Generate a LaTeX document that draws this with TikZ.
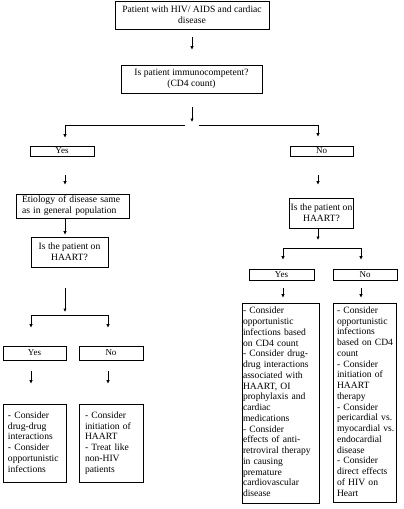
\documentclass[tikz,border=0pt]{standalone}
\usepackage{fontspec}
\setmainfont{Liberation Serif}
\usetikzlibrary{arrows.meta}
\newcommand{\lines}[1]{\begin{tabular}{@{}l@{}}#1\end{tabular}}
\begin{document}
\begin{tikzpicture}[x=1pt,y=-1pt,
  line/.style={draw, line width=0.75pt},
  arr/.style={line, -{Latex[length=3.5pt,width=3.5pt]}},
  box/.style={draw, line width=0.75pt, inner sep=1pt, align=center, font=\fontsize{9.6}{10.9}\selectfont},
  boxl/.style={draw, line width=0.75pt, inner ysep=1pt, align=left, font=\fontsize{9.6}{10.75}\selectfont},
  yn/.style={draw, line width=0.75pt, inner sep=0pt, font=\fontsize{9}{9}\selectfont}]
\useasboundingbox (0,0) rectangle (404,509);
% top
\node[box, minimum width=154, minimum height=28] (top) at (192,15) {Patient with HIV/ AIDS and cardiac\\disease};
\node[box, minimum width=141, minimum height=28] (q1) at (191.5,79) {Is patient immunocompetent?\\(CD4 count)};
\draw[arr, shorten <=8pt, shorten >=15pt] (top.south) -- (top.south |- q1.north);
\coordinate (s1) at (192,125);
\coordinate (s1L) at (65,125);
\coordinate (s1R) at (318,125);
\coordinate (g1) at (185,125);
\coordinate (g2) at (199,125);
\draw[arr, shorten <=14pt, shorten >=3pt] (q1.south -| s1) -- (s1);
\draw[line] (s1L) -- (g1);
\draw[line] (g2) -- (s1R);
% level 2
\node[yn, minimum width=64, minimum height=10] (yes1) at (62,151) {Yes};
\node[yn, minimum width=63, minimum height=10] (no1) at (321.5,151) {No};
\draw[arr, shorten >=8pt] (s1L) -- (s1L |- yes1.north);
\draw[arr, shorten >=9pt] (s1R) -- (s1R |- no1.north);
% left branch
\node[boxl, minimum width=113, minimum height=24, text width=101, inner xsep=6pt] (etio) at (72.5,206) {\lines{Etiology of disease same\\as in general population}};
\draw[arr, shorten <=19pt, shorten >=9pt] (yes1.south -| s1L) -- (etio.north -| s1L);
\node[box, minimum width=77, minimum height=30] (h1) at (69.5,252) {Is the patient on\\HAART?};
\draw[arr, shorten >=2pt] (etio.south -| s1L) -- (h1.north -| s1L);
\coordinate (s2) at (65,315);
\coordinate (s2L) at (31,315);
\coordinate (s2R) at (108,315);
\draw[arr, shorten <=21pt, shorten >=3pt] (h1.south -| s2) -- (s2);
\draw[line] (s2L) -- (s2R);
\node[yn, minimum width=63, minimum height=14] (yesL) at (34.5,353) {Yes};
\node[yn, minimum width=64, minimum height=14] (noL) at (111,353) {No};
\draw[arr, shorten >=18pt] (s2L) -- (s2L |- yesL.north);
\draw[arr, shorten >=18pt] (s2R) -- (s2R |- noL.north);
\node[boxl, minimum width=63, minimum height=78, text width=53, inner xsep=5pt] (bL) at (34.5,443) {\lines{- Consider\\drug-drug\\interactions\\- Consider\\opportunistic\\infections}};
\node[boxl, minimum width=64, minimum height=78, text width=52, inner xsep=6pt] (bNL) at (111,443) {\lines{- Consider\\initiation of\\HAART\\- Treat like\\non-HIV\\patients}};
\draw[arr, shorten <=11pt, shorten >=20pt] (yesL.south -| s2L) -- (bL.north -| s2L);
\draw[arr, shorten <=11pt, shorten >=20pt] (noL.south -| s2R) -- (bNL.north -| s2R);
% right branch
\node[box, minimum width=59, minimum height=30] (h2) at (321.5,213) {Is the patient on\\HAART?};
\draw[arr, shorten <=19pt, shorten >=13pt] (no1.south -| s1R) -- (h2.north -| s1R);
\coordinate (s3) at (318,248);
\coordinate (s3L) at (283,248);
\coordinate (s3R) at (361,248);
\draw[arr, shorten >=8pt] (h2.south -| s3) -- (s3);
\draw[line] (s3L) -- (s3R);
\node[yn, minimum width=65, minimum height=11] (yesR) at (281.5,274.5) {Yes};
\node[yn, minimum width=64, minimum height=11] (noR) at (365,274.5) {No};
\draw[arr, shorten >=9pt] (s3L) -- (s3L |- yesR.north);
\draw[arr, shorten >=9pt] (s3R) -- (s3R |- noR.north);
\node[boxl, minimum width=77, minimum height=200, text width=75, inner xsep=1pt] (bR1) at (280.5,403) {\lines{- Consider\\opportunistic\\infections based\\on CD4 count\\- Consider drug-\\drug interactions\\associated with\\HAART, OI\\prophylaxis and\\cardiac\\medications\\- Consider\\effects of anti-\\retroviral therapy\\in causing\\premature\\cardiovascular\\disease}};
\node[boxl, minimum width=63, minimum height=199, text width=55, inner xsep=4pt] (bR2) at (364.5,402.5) {\lines{- Consider\\opportunistic\\infections\\based on CD4\\count\\- Consider\\initiation of\\HAART\\therapy\\- Consider\\pericardial vs.\\myocardial vs.\\endocardial\\disease\\- Consider\\direct effects\\of HIV on\\Heart}};
\draw[arr, shorten <=8pt, shorten >=5pt] (yesR.south -| s3L) -- (bR1.north -| s3L);
\draw[arr, shorten <=8pt, shorten >=5pt] (noR.south -| s3R) -- (bR2.north -| s3R);
\end{tikzpicture}
\end{document}
